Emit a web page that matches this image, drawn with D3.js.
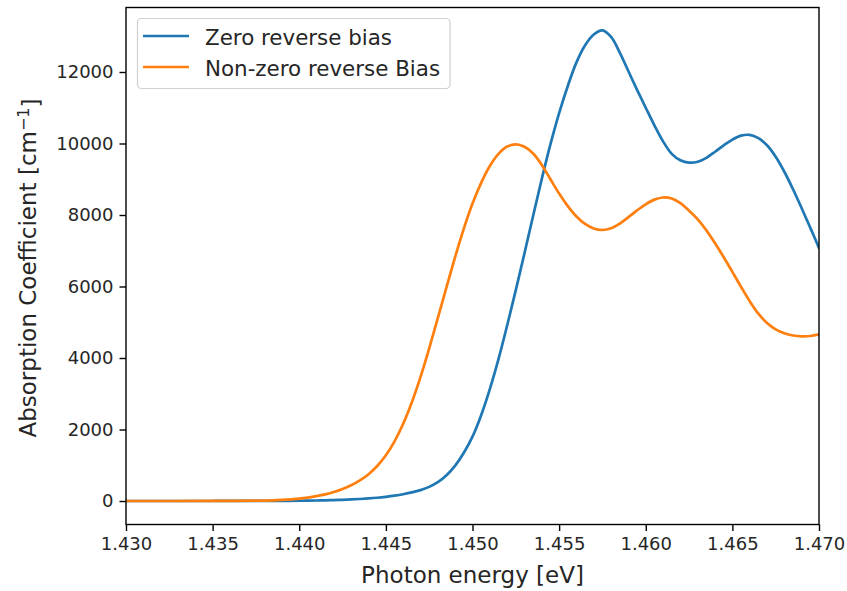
<!DOCTYPE html>
<html>
<head>
<meta charset="utf-8">
<script src="https://cdn.jsdelivr.net/npm/d3@7"></script>
<style>
  html, body { margin: 0; padding: 0; background: #fff; }
  svg { display: block; font-family: "DejaVu Sans", sans-serif; }
</style>
</head>
<body>
<svg id="chart" width="847" height="591"></svg>
<script>
// Photon energy samples (eV)
const energy = [1.4300, 1.4350, 1.4380, 1.4390, 1.4400, 1.4405, 1.4410, 1.4415, 1.4420, 1.4425,
  1.4430, 1.4435, 1.4440, 1.4445, 1.4450, 1.4455, 1.4460, 1.4465, 1.4470, 1.4475,
  1.4480, 1.4485, 1.4490, 1.4495, 1.4500, 1.4505, 1.4510, 1.4515, 1.4520, 1.4525,
  1.4530, 1.4535, 1.4540, 1.4545, 1.4550, 1.4555, 1.4560, 1.4565, 1.4570, 1.4575,
  1.4580, 1.4585, 1.4590, 1.4595, 1.4600, 1.4605, 1.4610, 1.4615, 1.4620, 1.4625,
  1.4630, 1.4635, 1.4640, 1.4645, 1.4650, 1.4655, 1.4660, 1.4665, 1.4670, 1.4675,
  1.4680, 1.4685, 1.4690, 1.4695, 1.4700];

// Absorption coefficient (cm^-1), zero reverse bias
const alphaZero = [0, 1, 3, 5, 8, 11, 15, 20, 26, 34,
  44, 56, 72, 92, 118, 150, 190, 240, 305, 395,
  525, 720, 990, 1350, 1800, 2400, 3130, 3970, 4910, 5900,
  6930, 7980, 9010, 9980, 10850, 11610, 12270, 12750, 13050, 13165,
  12980, 12540, 12020, 11500, 11000, 10510, 10060, 9710, 9530, 9465,
  9490, 9600, 9770, 9950, 10110, 10220, 10240, 10150, 9950, 9630,
  9210, 8720, 8190, 7640, 7080];

// Absorption coefficient (cm^-1), non-zero reverse bias
const alphaBias = [0, 3, 12, 30, 65, 95, 135, 185, 250, 335,
  440, 575, 750, 980, 1280, 1670, 2160, 2760, 3470, 4270,
  5120, 5980, 6830, 7620, 8320, 8900, 9370, 9710, 9915, 9975,
  9910, 9720, 9400, 9000, 8600, 8250, 7960, 7750, 7620, 7580,
  7630, 7760, 7940, 8130, 8300, 8430, 8490, 8460, 8330, 8120,
  7880, 7570, 7210, 6820, 6410, 5990, 5590, 5240, 4980, 4800,
  4690, 4630, 4605, 4615, 4660];

const seriesNames = ["Zero reverse bias", "Non-zero reverse Bias"];
const seriesColors = ["#1f77b4", "#ff7f0e"];
const xTicks = [1.430, 1.435, 1.440, 1.445, 1.450, 1.455, 1.460, 1.465, 1.470];
const yTicks = [0, 2000, 4000, 6000, 8000, 10000, 12000];

const plot = { left: 126, right: 819, top: 7.5, bottom: 524.5 };
const svg = d3.select("#chart");

const x = d3.scaleLinear().domain([1.430, 1.470]).range([plot.left, plot.right]);
const y = d3.scaleLinear().domain([-657, 13804]).range([plot.bottom, plot.top]);

svg.append("defs").append("clipPath").attr("id", "plotClip")
  .append("rect")
  .attr("x", plot.left).attr("y", plot.top)
  .attr("width", plot.right - plot.left).attr("height", plot.bottom - plot.top);

const series = [
  { name: seriesNames[0], color: seriesColors[0], pts: energy.map((e, i) => [e, alphaZero[i]]) },
  { name: seriesNames[1], color: seriesColors[1], pts: energy.map((e, i) => [e, alphaBias[i]]) }
];

const line = d3.line()
  .x(d => x(d[0]))
  .y(d => y(d[1]))
  .curve(d3.curveCatmullRom.alpha(0.5));

svg.append("g").attr("clip-path", "url(#plotClip)")
  .selectAll("path").data(series).join("path")
  .attr("d", d => line(d.pts))
  .attr("fill", "none")
  .attr("stroke", d => d.color)
  .attr("stroke-width", 2.7)
  .attr("stroke-linejoin", "round")
  .attr("stroke-linecap", "square");

// Axes
const xAxis = d3.axisBottom(x).tickValues(xTicks).tickFormat(d3.format(".3f"))
  .tickSizeInner(6.5).tickSizeOuter(0).tickPadding(6);
const yAxis = d3.axisLeft(y).tickValues(yTicks).tickFormat(d3.format("d"))
  .tickSizeInner(6.5).tickSizeOuter(0).tickPadding(6);

const gx = svg.append("g").attr("transform", `translate(0,${plot.bottom})`).call(xAxis);
const gy = svg.append("g").attr("transform", `translate(${plot.left},0)`).call(yAxis);
[gx, gy].forEach(g => {
  g.select(".domain").remove();
  g.selectAll(".tick line").attr("stroke", "#000").attr("stroke-width", 1.4);
  g.selectAll(".tick text").attr("fill", "#262626")
    .style("font-family", "DejaVu Sans").style("font-size", "18px");
});
gx.selectAll(".tick text").attr("dy", "0.71em");

// Frame
svg.append("rect")
  .attr("x", plot.left).attr("y", plot.top)
  .attr("width", plot.right - plot.left).attr("height", plot.bottom - plot.top)
  .attr("fill", "none").attr("stroke", "#000").attr("stroke-width", 1.4);

// Axis labels
svg.append("text")
  .attr("x", (plot.left + plot.right) / 2).attr("y", 582.5)
  .attr("text-anchor", "middle").attr("fill", "#262626")
  .style("font-size", "23px")
  .text("Photon energy [eV]");

const yl = svg.append("text")
  .attr("transform", `translate(36,${(plot.top + plot.bottom) / 2 + 2}) rotate(-90)`)
  .attr("text-anchor", "middle").attr("fill", "#262626")
  .style("font-size", "23px");
yl.append("tspan").text("Absorption Coefficient [cm");
yl.append("tspan").attr("dy", "-0.45em").style("font-size", "16px").text("\u22121");
yl.append("tspan").attr("dy", "0.45em").text("]");

// Legend
const lg = svg.append("g");
lg.append("rect")
  .attr("x", 137.5).attr("y", 18.5).attr("width", 312.5).attr("height", 70)
  .attr("rx", 4).attr("ry", 4)
  .attr("fill", "rgba(255,255,255,0.8)").attr("stroke", "#d0d0d0").attr("stroke-width", 1.2);
series.forEach((s, i) => {
  const cy = 36 + i * 31;
  lg.append("line")
    .attr("x1", 143).attr("x2", 189).attr("y1", cy).attr("y2", cy)
    .attr("stroke", s.color).attr("stroke-width", 2.7);
  lg.append("text")
    .attr("x", 205).attr("y", cy + 8.5)
    .attr("fill", "#262626").style("font-size", "21.4px")
    .text(s.name);
});
</script>
</body>
</html>
